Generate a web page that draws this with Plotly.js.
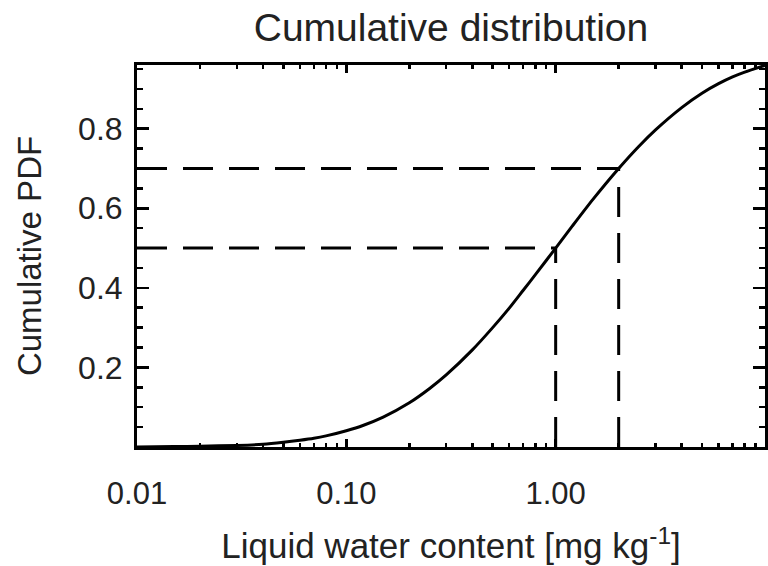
<!DOCTYPE html>
<html>
<head>
<meta charset="utf-8">
<script src="https://cdn.plot.ly/plotly-3.0.1.min.js"></script>
<style>html,body{margin:0;padding:0;background:#fff;}#chart{width:768px;height:566px;}</style>
</head>
<body>
<div id="chart"></div>
<script>
// Curve (liquid water content vs cumulative PDF)
var lwc = [0.01, 0.015, 0.02, 0.03, 0.04, 0.05, 0.06, 0.07, 0.08, 0.1, 0.12, 0.15, 0.2, 0.25, 0.3, 0.4, 0.5, 0.6, 0.7, 0.8, 1.0, 1.2, 1.5, 2.0, 2.5, 3.0, 4.0, 5.0, 6.0, 7.0, 8.0, 10.0];
var cdf = [0.000, 0.001, 0.002, 0.004, 0.007, 0.012, 0.017, 0.022, 0.028, 0.041, 0.054, 0.075, 0.111, 0.147, 0.181, 0.244, 0.300, 0.349, 0.394, 0.433, 0.500, 0.555, 0.621, 0.700, 0.756, 0.797, 0.853, 0.889, 0.913, 0.930, 0.942, 0.959];
// Reference (dashed) marks
var refX = [1.0, 2.0];
var refY = [0.5, 0.7];
var xTickVals = [0.01, 0.1, 1];
var xTickText = ['0.01', '0.10', '1.00'];
var xMinorVals = [0.02,0.03,0.04,0.05,0.06,0.07,0.08,0.09,0.2,0.3,0.4,0.5,0.6,0.7,0.8,0.9,2,3,4,5,6,7,8,9];
var yTickVals = [0.2, 0.4, 0.6, 0.8];
var yTickText = ['0.2', '0.4', '0.6', '0.8'];
var xMin = 0.01;

var traces = [{
  x: lwc, y: cdf, type: 'scatter', mode: 'lines',
  line: {color: '#000', width: 3, shape: 'spline', smoothing: 0.6},
  hoverinfo: 'skip'
}];
for (var i = 0; i < refX.length; i++) {
  traces.push({x: [xMin, refX[i]], y: [refY[i], refY[i]], type: 'scatter', mode: 'lines',
    line: {color: '#000', width: 3, dash: '30px,16px'}, hoverinfo: 'skip'});
  traces.push({x: [refX[i], refX[i]], y: [0, refY[i]], type: 'scatter', mode: 'lines',
    line: {color: '#000', width: 3, dash: '30px,16px'}, hoverinfo: 'skip'});
}

var fontFam = '"Liberation Sans", Arial, Helvetica, sans-serif';
var layout = {
  width: 768, height: 566,
  margin: {l: 137, r: 3, t: 65, b: 119, pad: 0},
  paper_bgcolor: '#fff', plot_bgcolor: '#fff',
  showlegend: false,
  font: {family: fontFam, color: '#222', size: 31},
  title: {text: 'Cumulative distribution', x: 0.5, xref: 'paper', y: 0.952, yref: 'container', yanchor: 'middle',
          font: {family: fontFam, size: 39, color: '#222'}},
  xaxis: {
    type: 'log', range: [-2, 1],
    showline: true, linecolor: '#000', linewidth: 3, mirror: 'allticks',
    showgrid: false, zeroline: false,
    ticks: 'inside', ticklen: 8, tickwidth: 2.5, tickcolor: '#000',
    tickmode: 'array', tickvals: xTickVals, ticktext: xTickText,
    ticklabelstandoff: 17,
    tickfont: {size: 31, color: '#222'},
    minor: {tickmode: 'array', tickvals: xMinorVals, ticks: 'inside', ticklen: 4, tickwidth: 2.5, tickcolor: '#000', showgrid: false},
    title: {text: 'Liquid water content [mg kg<sup>-1</sup>]', standoff: 24, font: {size: 35, color: '#222'}}
  },
  yaxis: {
    range: [0, 0.96],
    showline: true, linecolor: '#000', linewidth: 3, mirror: 'allticks',
    showgrid: false, zeroline: false,
    ticks: 'inside', ticklen: 12, tickwidth: 2.5, tickcolor: '#000',
    tickmode: 'array', tickvals: yTickVals, ticktext: yTickText,
    ticklabelstandoff: 5,
    tickfont: {size: 32, color: '#222'},
    minor: {dtick: 0.05, ticks: 'inside', ticklen: 6, tickwidth: 2.5, tickcolor: '#000', showgrid: false},
    title: {text: 'Cumulative PDF', standoff: 27, font: {size: 33, color: '#222'}}
  }
};
Plotly.newPlot('chart', traces, layout, {displayModeBar: false, staticPlot: true});
</script>
</body>
</html>
